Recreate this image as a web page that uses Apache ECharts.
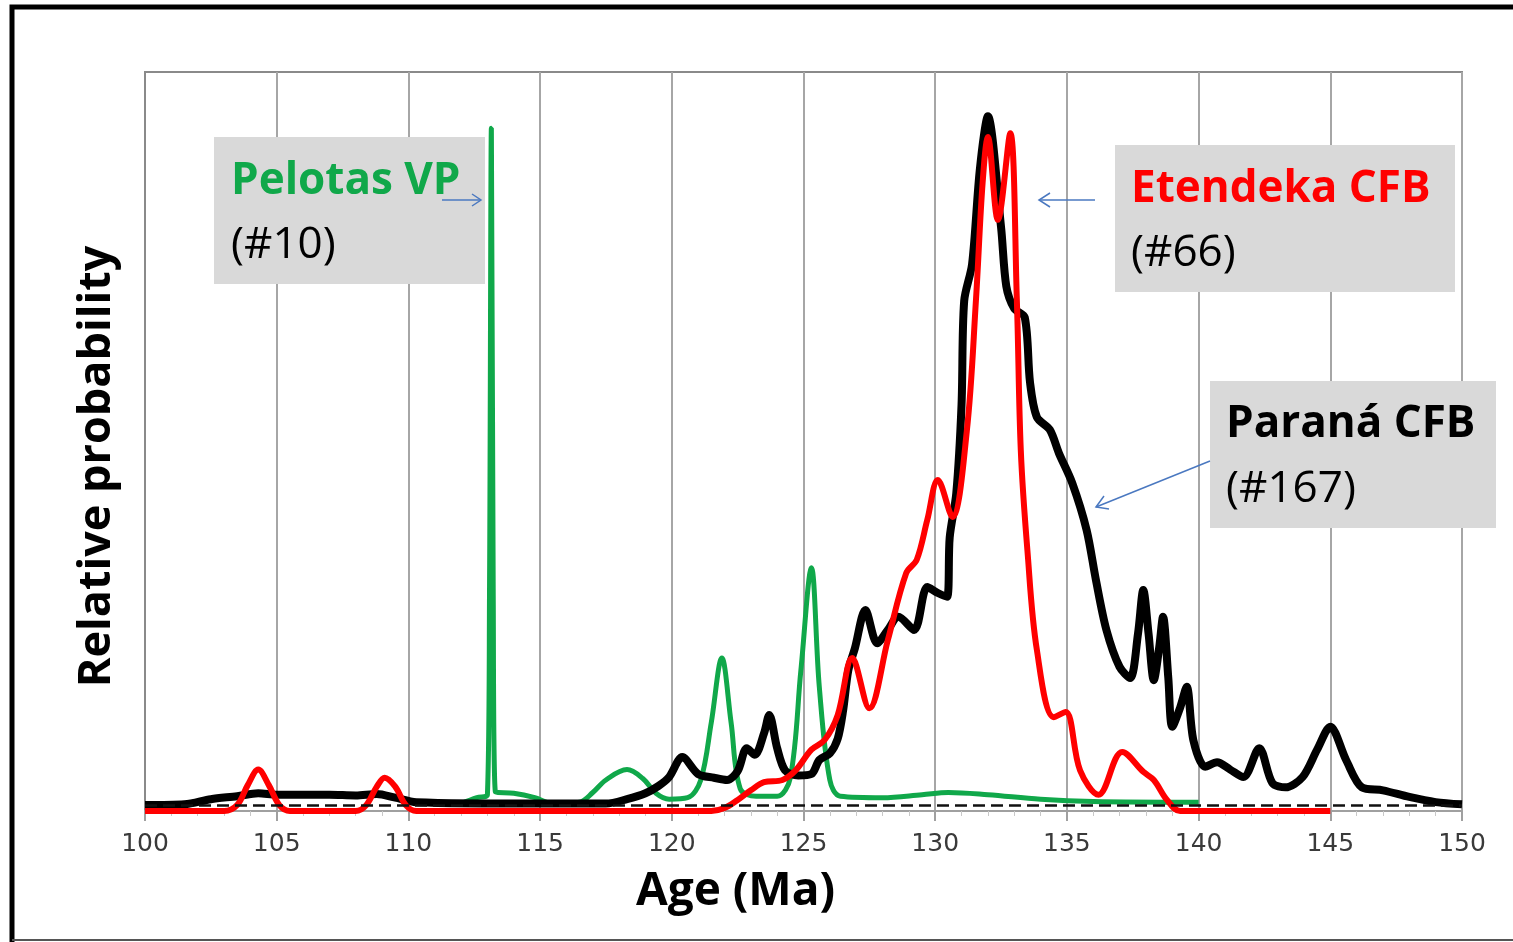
<!DOCTYPE html>
<html>
<head>
<meta charset="utf-8">
<title>Relative probability vs Age</title>
<script src="https://cdn.jsdelivr.net/npm/echarts@6/dist/echarts.min.js"></script>
<style>
  html, body { margin: 0; padding: 0; background: #fff; }
  #chart { width: 1513px; height: 942px; }
</style>
</head>
<body>
<div id="chart"></div>
<script>
// x axis ticks (Ma)
const ageTicks = [100, 105, 110, 115, 120, 125, 130, 135, 140, 145, 150]

// Paraná CFB (#167) - black
const paranaAge = [100, 101.5, 102.5, 103.5, 104.3, 105, 107, 108, 108.8, 109.5, 110.3, 115, 117.5, 118.3, 119, 119.5, 119.9, 120.4, 121.0, 121.6, 122.1, 122.5, 122.85, 123.15, 123.5, 123.7, 124.0, 124.3, 124.8, 125.3, 125.6, 126.0, 126.3, 126.5, 126.7, 126.95, 127.35, 127.8, 128.2, 128.6, 129.2, 129.7, 130.1, 130.45, 130.55, 130.8, 131.0, 131.1, 131.4, 131.7, 132.0, 132.5, 132.7, 133.0, 133.4, 133.6, 133.86, 134.35, 134.7, 135.2, 135.75, 136.1, 136.5, 137.0, 137.4, 137.7, 137.9, 138.1, 138.3, 138.5, 138.65, 138.85, 139.0, 139.3, 139.55, 139.8, 140.25, 140.7, 141.2, 141.7, 142.3, 142.8, 143.3, 143.95, 144.5, 145.0, 145.6, 146.2, 147, 148, 149, 150]
const paranaProb = [0.8, 0.9, 1.6, 2.0, 2.4, 2.2, 2.2, 2.1, 2.3, 1.8, 1.2, 1.0, 1.0, 1.6, 2.4, 3.4, 4.6, 7.3, 5.0, 4.5, 4.2, 5.4, 8.5, 7.6, 10.5, 13.0, 8.5, 5.5, 4.8, 5.0, 6.9, 7.8, 9.8, 13.5, 19, 22, 27.2, 22.7, 24.5, 26.3, 24.5, 30.3, 29.5, 29, 37, 43, 55, 69, 74, 87, 94, 79, 71, 68, 66.8, 58, 53.3, 51.6, 48.4, 44.4, 38, 31.3, 24.5, 19.5, 18, 24, 29.9, 24, 17.7, 22, 26.3, 18, 11.4, 14, 16.8, 9.6, 6.0, 6.6, 5.6, 4.6, 8.5, 3.8, 3.2, 4.6, 8.3, 11.4, 6.9, 3.2, 2.8, 1.9, 1.2, 0.9]

// Etendeka CFB (#66) - red
const etendekaAge = [100, 103, 103.5, 103.9, 104.3, 104.7, 105.1, 105.5, 108, 108.4, 108.8, 109.1, 109.5, 109.9, 110.3, 121.5, 122, 122.5, 123, 123.5, 124.2, 124.7, 125.3, 125.8, 126.3, 126.85, 127.5, 128.2, 128.9, 129.3, 129.7, 130.1, 130.65, 131.2, 131.55, 131.8, 132.0, 132.38, 132.85, 133.1, 133.25, 133.5, 133.86, 134.5, 134.95, 135.5, 136.2, 137.1, 137.9, 138.3, 138.8, 139.3, 145]
const etendekaProb = [0, 0, 0.8, 3.5, 5.6, 3.5, 0.8, 0, 0, 0.8, 3.3, 4.5, 3.3, 0.8, 0, 0, 0.4, 1.5, 2.8, 3.9, 4.2, 5.5, 8.3, 9.6, 13.0, 20.7, 13.9, 23.1, 32.2, 34.0, 39.4, 44.8, 39.8, 51.4, 69.3, 85, 91.2, 80.0, 91.7, 69.1, 48.8, 35.3, 21.8, 12.7, 13.4, 5.5, 2.2, 8.0, 5.3, 4.2, 1.5, 0, 0]

// Pelotas VP (#10) - green
const pelotasAge = [112, 112.6, 113.0, 113.08, 113.15, 113.22, 113.3, 114, 114.8, 115.5, 116.5, 117.0, 117.5, 118.3, 118.9, 119.4, 119.9, 120.6, 121.1, 121.5, 121.9, 122.25, 122.6, 123.2, 124, 124.5, 124.9, 125.3, 125.6, 126.0, 126.4, 128, 129.5, 130.5, 132, 134, 136, 140]
const pelotasProb = [1.0, 1.8, 2.2, 30, 92.4, 30, 2.6, 2.4, 1.8, 1.0, 1.2, 2.5, 4.2, 5.6, 4.4, 2.4, 1.6, 1.8, 4.2, 12, 20.7, 12, 3.0, 2.0, 2.0, 4.5, 19, 32.9, 16.8, 4.2, 2.0, 1.8, 2.2, 2.5, 2.2, 1.6, 1.3, 1.2]

function pairs(xs, ys) {
  return xs.map((x, i) => [x, ys[i]])
}

const chart = echarts.init(document.getElementById('chart'))
const boxColor = '#d9d9d9'
const arrowColor = '#4a78c0'
const labelFont = '"Open Sans", Lato, sans-serif'

chart.setOption({
  animation: false,
  backgroundColor: '#fff',
  grid: {
    left: 145, right: 51, top: 72, bottom: 131,
    show: true, borderColor: '#8a8a8a', borderWidth: 2
  },
  xAxis: {
    type: 'value',
    min: 100, max: 150, interval: 5,
    name: 'Age (Ma)',
    nameLocation: 'middle',
    nameGap: 58,
    nameTextStyle: {
      fontFamily: labelFont, fontWeight: 'bold', fontSize: 46, color: '#000',
      padding: [0, 136, 0, 0]
    },
    axisLine: { lineStyle: { color: '#a0a0a0', width: 2 } },
    axisTick: { show: true, length: 10, lineStyle: { color: '#a0a0a0', width: 2 } },
    minorTick: { show: true, splitNumber: 5, length: 5, lineStyle: { color: '#c8c8c8' } },
    axisLabel: {
      fontFamily: '"DejaVu Sans", sans-serif', fontSize: 25, color: '#3a3a3a', margin: 21,
      formatter: v => ageTicks.includes(v) ? String(v) : ''
    },
    splitLine: { show: true, lineStyle: { color: '#a6a6a6', width: 2 } }
  },
  yAxis: {
    type: 'value',
    min: 0, max: 100,
    name: 'Relative probability',
    nameLocation: 'middle',
    nameGap: 25,
    nameTextStyle: {
      fontFamily: labelFont, fontWeight: 'bold', fontSize: 45, color: '#000',
      padding: [0, 50, 0, 0]
    },
    axisLine: { show: true, lineStyle: { color: '#8a8a8a', width: 2 } },
    axisTick: { show: false },
    axisLabel: { show: false },
    splitLine: { show: false }
  },
  series: [
    {
      name: 'Pelotas VP',
      type: 'line',
      data: pairs(pelotasAge, pelotasProb),
      smooth: 0.35,
      symbol: 'none',
      lineStyle: { color: '#10a84a', width: 5 },
      z: 2
    },
    {
      name: 'Paraná CFB',
      type: 'line',
      data: pairs(paranaAge, paranaProb),
      smooth: 0.3,
      symbol: 'none',
      lineStyle: { color: '#000', width: 8 },
      markLine: {
        silent: true,
        symbol: 'none',
        label: { show: false },
        lineStyle: { color: '#111', type: [12, 6], width: 2.5 },
        data: [{ yAxis: 0.8 }]
      },
      z: 3
    },
    {
      name: 'Etendeka CFB',
      type: 'line',
      data: pairs(etendekaAge, etendekaProb),
      smooth: 0.35,
      symbol: 'none',
      lineStyle: { color: '#ff0000', width: 6 },
      z: 4
    }
  ],
  graphic: [
    // outer frame
    { type: 'polyline', shape: { points: [[12, 942], [12, 7], [1513, 7]] }, style: { stroke: '#000', lineWidth: 5, fill: null } },
    { type: 'line', shape: { x1: 12, y1: 940, x2: 1513, y2: 940 }, style: { stroke: '#555', lineWidth: 2 } },

    // Pelotas label
    { type: 'rect', shape: { x: 214, y: 137, width: 271, height: 147 }, style: { fill: boxColor }, z: 10 },
    { type: 'text', z: 11, style: { text: 'Pelotas VP', x: 231, y: 181, font: 'bold 44px ' + labelFont, fill: '#10a84a', textVerticalAlign: 'middle' } },
    { type: 'text', z: 11, style: { text: '(#10)', x: 231, y: 245, font: '44px ' + labelFont, fill: '#000', textVerticalAlign: 'middle' } },
    { type: 'line', z: 12, shape: { x1: 442, y1: 200, x2: 481, y2: 200 }, style: { stroke: arrowColor, lineWidth: 1.5 } },
    { type: 'polyline', z: 12, shape: { points: [[472, 194], [481, 200], [472, 206]] }, style: { stroke: arrowColor, lineWidth: 1.5, fill: null } },

    // Etendeka label
    { type: 'rect', shape: { x: 1115, y: 145, width: 340, height: 147 }, style: { fill: boxColor }, z: 10 },
    { type: 'text', z: 11, style: { text: 'Etendeka CFB', x: 1131, y: 189, font: 'bold 44px ' + labelFont, fill: '#ff0000', textVerticalAlign: 'middle' } },
    { type: 'text', z: 11, style: { text: '(#66)', x: 1131, y: 253, font: '44px ' + labelFont, fill: '#000', textVerticalAlign: 'middle' } },
    { type: 'line', z: 12, shape: { x1: 1095, y1: 200, x2: 1039, y2: 200 }, style: { stroke: arrowColor, lineWidth: 1.5 } },
    { type: 'polyline', z: 12, shape: { points: [[1050, 193], [1039, 200], [1050, 207]] }, style: { stroke: arrowColor, lineWidth: 1.5, fill: null } },

    // Paraná label
    { type: 'rect', shape: { x: 1210, y: 381, width: 286, height: 147 }, style: { fill: boxColor }, z: 10 },
    { type: 'text', z: 11, style: { text: 'Paraná CFB', x: 1226, y: 424, font: 'bold 44px ' + labelFont, fill: '#000', textVerticalAlign: 'middle' } },
    { type: 'text', z: 11, style: { text: '(#167)', x: 1226, y: 489, font: '44px ' + labelFont, fill: '#000', textVerticalAlign: 'middle' } },
    { type: 'line', z: 12, shape: { x1: 1210, y1: 461, x2: 1096, y2: 507 }, style: { stroke: arrowColor, lineWidth: 1.5 } },
    { type: 'polyline', z: 12, shape: { points: [[1104, 496], [1096, 507], [1109, 509]] }, style: { stroke: arrowColor, lineWidth: 1.5, fill: null } }
  ]
})
</script>
</body>
</html>
